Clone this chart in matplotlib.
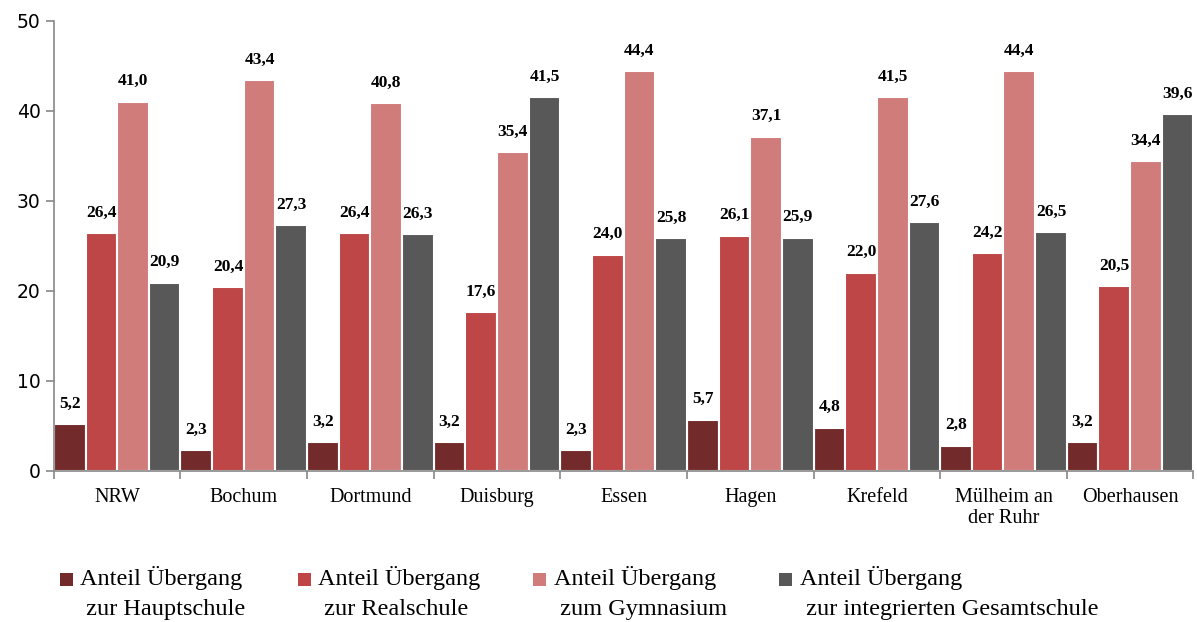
import matplotlib
matplotlib.use("Agg")
import matplotlib.pyplot as plt
from matplotlib.container import BarContainer
from matplotlib.legend_handler import HandlerPatch
from matplotlib.patches import Rectangle
import numpy as np

orte = ["NRW", "Bochum", "Dortmund", "Duisburg", "Essen", "Hagen",
        "Krefeld", "Mülheim an\nder Ruhr", "Oberhausen"]
hauptschule = [5.2, 2.3, 3.2, 3.2, 2.3, 5.7, 4.8, 2.8, 3.2]
realschule = [26.4, 20.4, 26.4, 17.6, 24.0, 26.1, 22.0, 24.2, 20.5]
gymnasium = [41.0, 43.4, 40.8, 35.4, 44.4, 37.1, 41.5, 44.4, 34.4]
gesamtschule = [20.9, 27.3, 26.3, 41.5, 25.8, 25.9, 27.6, 26.5, 39.6]

reihen = [
    ("Anteil Übergang\n zur Hauptschule", hauptschule, "#722a2a"),
    ("Anteil Übergang\n zur Realschule", realschule, "#be4646"),
    ("Anteil Übergang\n zum Gymnasium", gymnasium, "#d07c7b"),
    ("Anteil Übergang\n zur integrierten Gesamtschule", gesamtschule, "#585858"),
]

serif = ["Liberation Serif", "DejaVu Serif"]

fig = plt.figure(figsize=(11.97, 6.22), dpi=100)
ax = fig.add_axes([0.045, 0.243, 0.952, 0.724])

x = np.arange(len(orte))
w = 0.25
for i, (name, werte, farbe) in enumerate(reihen):
    pos = x - 0.375 + i * w
    bars = ax.bar(pos, werte, width=w, color=farbe, edgecolor="white",
                  linewidth=1.5, label=name)
    for b, v in zip(bars, werte):
        ax.annotate(f"{v:.1f}".replace(".", ","),
                    (b.get_x() + b.get_width() / 2, v),
                    xytext=(0, 9), textcoords="offset points",
                    ha="center", va="bottom", fontsize=12.5,
                    fontweight="bold", family=serif)

ax.set_xlim(-0.5, len(orte) - 0.5)
ax.set_ylim(0, 50)
ax.set_yticks([0, 10, 20, 30, 40, 50])
ax.tick_params(axis="y", labelsize=13.5, color="#888888", length=6, width=1.2)

ax.set_xticks(x)
ax.set_xticklabels(orte, family=serif, fontsize=14.5)
ax.tick_params(axis="x", length=0, pad=12)
ax.set_xticks(np.arange(-0.5, len(orte)), minor=True)
ax.tick_params(axis="x", which="minor", length=6, width=1.2, color="#888888")

for s in ["top", "right"]:
    ax.spines[s].set_visible(False)
for s in ["left", "bottom"]:
    ax.spines[s].set_color("#888888")
    ax.spines[s].set_linewidth(1.2)


# Kästchen oben neben der ersten Textzeile statt mittig
def kaestchen(legend, orig_handle, xdescent, ydescent, width, height, fontsize):
    s = 0.55 * fontsize
    return Rectangle((-xdescent + width - s, -ydescent + height - s), s, s)


def farbe_uebernehmen(handle, orig):
    handle.set_facecolor(orig.patches[0].get_facecolor())
    handle.set_linewidth(0)


leg = fig.legend(loc="lower left", bbox_to_anchor=(0.0325, -0.024), ncol=4,
                 frameon=False, prop={"family": serif, "size": 17.5},
                 handlelength=0.7, handleheight=2.2, handletextpad=0.3,
                 columnspacing=2.0, borderaxespad=0.3,
                 handler_map={BarContainer: HandlerPatch(patch_func=kaestchen,
                                                         update_func=farbe_uebernehmen)})
for t in leg.get_texts():
    t.set_linespacing(1.55)

fig.savefig("out.png", dpi=100)
